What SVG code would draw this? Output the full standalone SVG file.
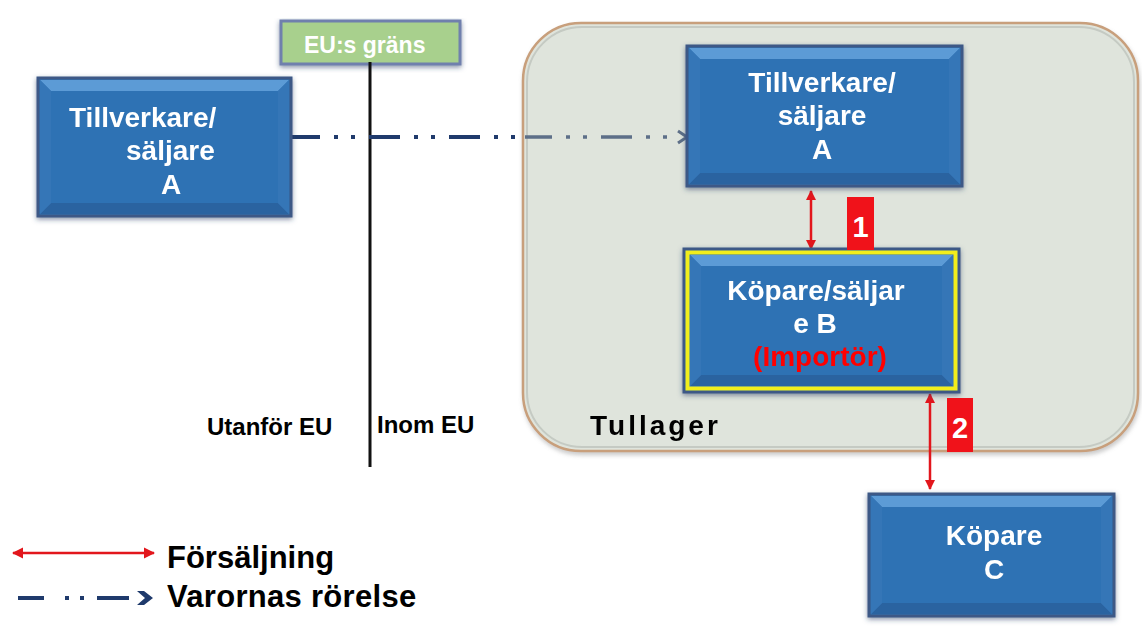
<svg xmlns="http://www.w3.org/2000/svg" width="1142" height="639" viewBox="0 0 1142 639">
  <defs>
    <style>
      .face { fill: #2f72b4; stroke: #3c5986; stroke-width: 3; }
      .bevel-top { fill: #5b9bd6; }
      .bevel-bot { fill: #2a63a0; }
      .bevel-side { fill: #3676b7; }
      .bt { font-family: "Liberation Sans", Arial, sans-serif; font-weight: bold; font-size: 28px; fill: #ffffff; }
      .imp { fill: #ff0000; }
      .lbl { font-family: "Liberation Sans", Arial, sans-serif; font-weight: bold; fill: #000000; }
      .sale { stroke: #e2161c; stroke-width: 2.5; fill: none; }
      .tag { fill: #f0121a; }
      .tagt { font-family: "Liberation Sans", Arial, sans-serif; font-weight: bold; font-size: 29px; fill: #ffffff; text-anchor: middle; }
      .move-out { stroke: #1f3a6c; stroke-width: 4; stroke-dasharray: 31 14 4 13 4 14; fill: none; }
      .move-in { stroke: #5d6f88; stroke-width: 3.5; stroke-dasharray: 31 14 4 13 4 14; fill: none; }
    </style>
    <filter id="shadow" x="-10%" y="-10%" width="120%" height="130%">
      <feGaussianBlur in="SourceAlpha" stdDeviation="2.5"/>
      <feOffset dx="0" dy="2" result="b"/>
      <feFlood flood-color="#2c3f66" flood-opacity="0.55"/>
      <feComposite in2="b" operator="in"/>
      <feMerge><feMergeNode/><feMergeNode in="SourceGraphic"/></feMerge>
    </filter>
    <filter id="panelShadow" x="-5%" y="-5%" width="110%" height="115%">
      <feGaussianBlur in="SourceAlpha" stdDeviation="2"/>
      <feOffset dx="1" dy="3" result="b"/>
      <feFlood flood-color="#8a8a8a" flood-opacity="0.45"/>
      <feComposite in2="b" operator="in"/>
      <feMerge><feMergeNode/><feMergeNode in="SourceGraphic"/></feMerge>
    </filter>
    <marker id="saleHead" viewBox="0 0 10 10" refX="9" refY="5" markerWidth="4" markerHeight="4" orient="auto-start-reverse">
      <path d="M0,0 L10,5 L0,10 Z" fill="#e2161c"/>
    </marker>
    <marker id="saleHeadBig" viewBox="0 0 10 10" refX="9" refY="5" markerWidth="4.5" markerHeight="4.5" orient="auto-start-reverse">
      <path d="M0,0 L10,5 L0,10 Z" fill="#e2161c"/>
    </marker>
  </defs>

  <rect width="1142" height="639" fill="#ffffff"/>

  <!-- Customs warehouse area -->
  <g id="tullager" filter="url(#panelShadow)">
    <rect x="523" y="23" width="615" height="428" rx="58" ry="58" fill="#dfe4dc" stroke="#c89f7b" stroke-width="2.5"/>
    <rect x="527" y="27" width="607" height="420" rx="55" ry="55" fill="none" stroke="#b9bfb8" stroke-width="2" opacity="0.7"/>
    <text class="lbl" x="590" y="435" font-size="28" letter-spacing="3">Tullager</text>
  </g>

  <!-- Border marker -->
  <g id="eu-grans">
    <rect x="281" y="21" width="179" height="43" fill="#a8d08d" stroke="#6f80ad" stroke-width="3" filter="url(#shadow)"/>
    <text x="304" y="53" font-family="Liberation Sans, Arial, sans-serif" font-weight="bold" font-size="23" fill="#ffffff">EU:s gräns</text>
  </g>
  <line id="eu-line" x1="370" y1="62" x2="370" y2="467" stroke="#111111" stroke-width="3"/>
  <text class="lbl" x="207" y="435" font-size="24">Utanför EU</text>
  <text class="lbl" x="377" y="433" font-size="24">Inom EU</text>

  <!-- Connectors -->
  <g id="connectors">
    <!-- movement of goods -->
    <line class="move-out" x1="289" y1="137" x2="523" y2="137"/>
    <line class="move-in" x1="525" y1="137" x2="678" y2="137" stroke-dashoffset="-76"/>
    <path d="M678,131 L687,137 L678,143" fill="none" stroke="#5d6f88" stroke-width="3"/>
    <!-- sale 1 -->
    <line class="sale" x1="811" y1="191" x2="811" y2="249" marker-start="url(#saleHead)" marker-end="url(#saleHead)"/>
    <!-- sale 2 -->
    <line class="sale" x1="930" y1="394" x2="930" y2="489" marker-start="url(#saleHead)" marker-end="url(#saleHead)"/>
  </g>

  <!-- Manufacturer/seller A outside EU -->
  <g id="seller-a-outside" filter="url(#shadow)">
    <rect class="face" x="38" y="78" width="253" height="138"/>
    <polygon class="bevel-top" points="40,80 289,80 278,91 51,91"/>
    <polygon class="bevel-bot" points="40,214 289,214 278,203 51,203"/>
    <polygon class="bevel-side" points="40,80 51,91 51,203 40,214"/>
    <polygon class="bevel-side" points="289,80 278,91 278,203 289,214"/>
    <text class="bt" x="69" y="127">Tillverkare/</text>
    <text class="bt" x="126" y="160">säljare</text>
    <text class="bt" x="161" y="194">A</text>
  </g>

  <!-- Manufacturer/seller A in warehouse -->
  <g id="seller-a-inside" filter="url(#shadow)">
    <rect class="face" x="687" y="46" width="275" height="140"/>
    <polygon class="bevel-top" points="689,48 960,48 949,59 700,59"/>
    <polygon class="bevel-bot" points="689,184 960,184 949,173 700,173"/>
    <polygon class="bevel-side" points="689,48 700,59 700,173 689,184"/>
    <polygon class="bevel-side" points="960,48 949,59 949,173 960,184"/>
    <text class="bt" x="822" y="92" text-anchor="middle">Tillverkare/</text>
    <text class="bt" x="822" y="125" text-anchor="middle">säljare</text>
    <text class="bt" x="822" y="159" text-anchor="middle">A</text>
  </g>

  <!-- Buyer/seller B (importer) -->
  <g id="buyer-seller-b" filter="url(#shadow)">
    <rect class="face" x="684" y="249" width="275" height="143"/>
    <rect x="687.5" y="252.5" width="268" height="136" fill="none" stroke="#f2ee1a" stroke-width="4"/>
    <polygon class="bevel-top" points="690,255 953,255 942,266 701,266"/>
    <polygon class="bevel-bot" points="690,386 953,386 942,375 701,375"/>
    <polygon class="bevel-side" points="690,255 701,266 701,375 690,386"/>
    <polygon class="bevel-side" points="953,255 942,266 942,375 953,386"/>
    <text class="bt" x="816" y="300" text-anchor="middle">Köpare/säljar</text>
    <text class="bt" x="815" y="333" text-anchor="middle">e B</text>
    <text class="bt imp" x="820" y="366" text-anchor="middle">(Importör)</text>
  </g>

  <!-- Buyer C -->
  <g id="buyer-c" filter="url(#shadow)">
    <rect class="face" x="869" y="494" width="245" height="122"/>
    <polygon class="bevel-top" points="871,496 1112,496 1101,507 882,507"/>
    <polygon class="bevel-bot" points="871,614 1112,614 1101,603 882,603"/>
    <polygon class="bevel-side" points="871,496 882,507 882,603 871,614"/>
    <polygon class="bevel-side" points="1112,496 1101,507 1101,603 1112,614"/>
    <text class="bt" x="994" y="545" text-anchor="middle">Köpare</text>
    <text class="bt" x="994" y="579" text-anchor="middle">C</text>
  </g>

  <!-- Sale number tags -->
  <g id="tag-1">
    <rect class="tag" x="847" y="197" width="27" height="53"/>
    <text class="tagt" x="860.5" y="237">1</text>
  </g>
  <g id="tag-2">
    <rect class="tag" x="947" y="398" width="26" height="54"/>
    <text class="tagt" x="960" y="438">2</text>
  </g>

  <!-- Legend -->
  <g id="legend">
    <line class="sale" x1="13" y1="553" x2="154" y2="553" stroke-width="3" marker-start="url(#saleHeadBig)" marker-end="url(#saleHeadBig)"/>
    <text class="lbl" x="167" y="568" font-size="31">Försäljning</text>
    <line x1="18" y1="598" x2="44" y2="598" stroke="#1f3a6c" stroke-width="4"/>
    <rect x="65" y="596" width="4" height="4" fill="#1f3a6c"/>
    <rect x="80" y="596" width="4" height="4" fill="#1f3a6c"/>
    <line x1="97" y1="598" x2="129" y2="598" stroke="#1f3a6c" stroke-width="4"/>
    <path d="M137,591 L144,591 L153,598 L144,605 L137,605 L145,598 Z" fill="#1f3a6c"/>
    <text class="lbl" x="167" y="607" font-size="31" letter-spacing="0.3">Varornas rörelse</text>
  </g>
</svg>
